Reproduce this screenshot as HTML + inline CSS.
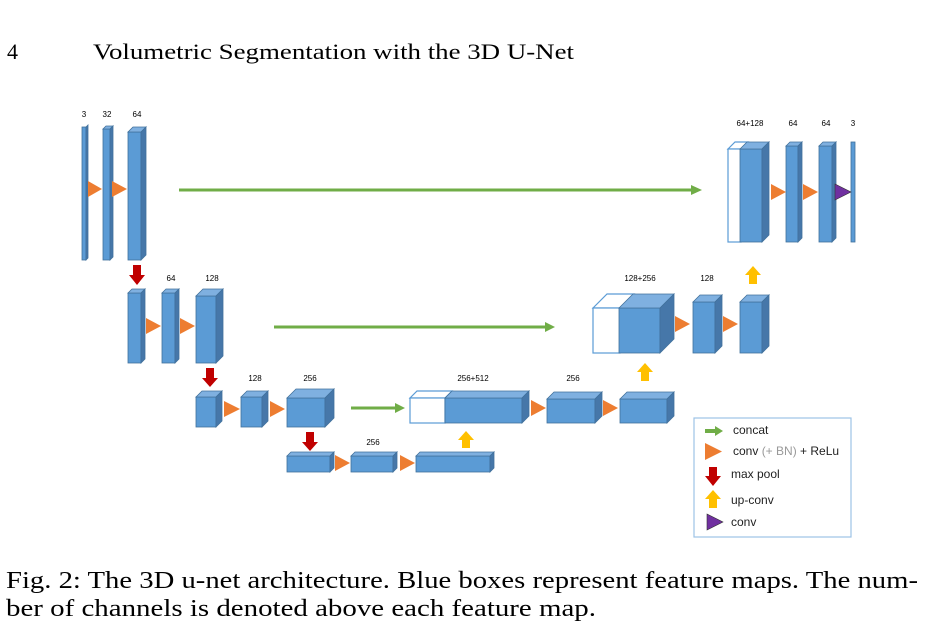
<!DOCTYPE html>
<html><head><meta charset="utf-8"><style>
html,body{margin:0;padding:0;background:#fff;}
svg{display:block;}
.f{fill:#5b9bd5;stroke:#41719c;stroke-width:0.8}
.t{fill:#7fb0e0;stroke:#41719c;stroke-width:0.8}
.s{fill:#4677a9;stroke:#41719c;stroke-width:0.8}
.w{fill:#fff;stroke:#5b9bd5;stroke-width:1.2}
.o{fill:#ed7d31}
.l{font-family:"Liberation Sans",sans-serif;font-size:8px;fill:#000;text-anchor:middle}
.lg{font-family:"Liberation Sans",sans-serif;font-size:12px;fill:#222}
.serif{font-family:"Liberation Serif",serif;fill:#000}
</style></head><body>
<svg width="932" height="626" viewBox="0 0 932 626" xmlns="http://www.w3.org/2000/svg">
<text class="serif" x="7" y="59" font-size="22">4</text>
<text class="serif" x="93" y="59" font-size="22" textLength="481" lengthAdjust="spacingAndGlyphs">Volumetric Segmentation with the 3D U-Net</text>

<text class="l" x="84" y="117">3</text>
<text class="l" x="107" y="117">32</text>
<text class="l" x="137" y="117">64</text>
<text class="l" x="750" y="126">64+128</text>
<text class="l" x="793" y="126">64</text>
<text class="l" x="826" y="126">64</text>
<text class="l" x="853" y="126">3</text>
<text class="l" x="171" y="281">64</text>
<text class="l" x="212" y="281">128</text>
<text class="l" x="640" y="281">128+256</text>
<text class="l" x="707" y="281">128</text>
<text class="l" x="255" y="381">128</text>
<text class="l" x="310" y="381">256</text>
<text class="l" x="473" y="381">256+512</text>
<text class="l" x="573" y="381">256</text>
<text class="l" x="373" y="445">256</text>

<rect class="f" x="82" y="127" width="4" height="133"/>
<polygon class="s" points="86,127 88,125 88,258 86,260"/>
<rect class="f" x="103" y="129" width="7" height="131"/><polygon class="t" points="103,129 106,126 113,126 110,129"/><polygon class="s" points="110,129 113,126 113,257 110,260"/>
<rect class="f" x="128" y="132" width="13" height="128"/><polygon class="t" points="128,132 133,127 146,127 141,132"/><polygon class="s" points="141,132 146,127 146,255 141,260"/>
<polygon class="o" points="88,181 88,197 102,189"/>
<polygon class="o" points="112,181 112,197 127,189"/>
<line x1="179" y1="190" x2="692" y2="190" stroke="#70ad47" stroke-width="3"/>
<polygon fill="#70ad47" points="691,185 702,190 691,195"/>

<polygon class="w" points="728,149 735,142 748,142 741,149"/><rect class="w" x="728" y="149" width="13" height="93"/>
<rect class="f" x="740" y="149" width="22" height="93"/><polygon class="t" points="740,149 747,142 769,142 762,149"/><polygon class="s" points="762,149 769,142 769,235 762,242"/>
<rect class="f" x="786" y="146" width="12" height="96"/><polygon class="t" points="786,146 790,142 802,142 798,146"/><polygon class="s" points="798,146 802,142 802,238 798,242"/>
<rect class="f" x="819" y="146" width="13" height="96"/><polygon class="t" points="819,146 823,142 836,142 832,146"/><polygon class="s" points="832,146 836,142 836,238 832,242"/>
<rect class="f" x="851" y="142" width="4" height="100"/>
<polygon class="o" points="771,184 771,200 786,192"/>
<polygon class="o" points="803,184 803,200 818,192"/>
<polygon fill="#7030a0" stroke="#333" stroke-width="0.6" points="835,184 835,200 851,192"/>

<polygon fill="#c00000" points="133,265 141,265 141,275 145,275 137,285 129,275 133,275"/>
<rect class="f" x="128" y="293" width="13" height="70"/><polygon class="t" points="128,293 132,289 145,289 141,293"/><polygon class="s" points="141,293 145,289 145,359 141,363"/>
<rect class="f" x="162" y="293" width="13" height="70"/><polygon class="t" points="162,293 166,289 179,289 175,293"/><polygon class="s" points="175,293 179,289 179,359 175,363"/>
<rect class="f" x="196" y="296" width="20" height="67"/><polygon class="t" points="196,296 203,289 223,289 216,296"/><polygon class="s" points="216,296 223,289 223,356 216,363"/>
<polygon class="o" points="146,318 146,334 161,326"/>
<polygon class="o" points="180,318 180,334 195,326"/>
<line x1="274" y1="327" x2="546" y2="327" stroke="#70ad47" stroke-width="3"/>
<polygon fill="#70ad47" points="545,322 555,327 545,332"/>
<polygon class="w" points="593,308 607,294 634,294 620,308"/><rect class="w" x="593" y="308" width="27" height="45"/>
<rect class="f" x="619" y="308" width="41" height="45"/><polygon class="t" points="619,308 633,294 674,294 660,308"/><polygon class="s" points="660,308 674,294 674,339 660,353"/>
<rect class="f" x="693" y="302" width="22" height="51"/><polygon class="t" points="693,302 700,295 722,295 715,302"/><polygon class="s" points="715,302 722,295 722,346 715,353"/>
<rect class="f" x="740" y="302" width="22" height="51"/><polygon class="t" points="740,302 747,295 769,295 762,302"/><polygon class="s" points="762,302 769,295 769,346 762,353"/>
<polygon class="o" points="675,316 675,332 690,324"/>
<polygon class="o" points="723,316 723,332 738,324"/>
<polygon fill="#ffc000" points="749,284 757,284 757,275 761,275 753,266 745,275 749,275"/>

<polygon fill="#c00000" points="206,368 214,368 214,378 218,378 210,387 202,378 206,378"/>
<rect class="f" x="196" y="397" width="20" height="30"/><polygon class="t" points="196,397 202,391 222,391 216,397"/><polygon class="s" points="216,397 222,391 222,421 216,427"/>
<rect class="f" x="241" y="397" width="21" height="30"/><polygon class="t" points="241,397 247,391 268,391 262,397"/><polygon class="s" points="262,397 268,391 268,421 262,427"/>
<rect class="f" x="287" y="398" width="38" height="29"/><polygon class="t" points="287,398 296,389 334,389 325,398"/><polygon class="s" points="325,398 334,389 334,418 325,427"/>
<polygon class="o" points="224,401 224,417 240,409"/>
<polygon class="o" points="270,401 270,417 285,409"/>
<line x1="351" y1="408" x2="396" y2="408" stroke="#70ad47" stroke-width="3"/>
<polygon fill="#70ad47" points="395,403 405,408 395,413"/>
<polygon class="w" points="410,398 417,391 452,391 445,398"/><rect class="w" x="410" y="398" width="35" height="25"/>
<rect class="f" x="445" y="398" width="77" height="25"/><polygon class="t" points="445,398 452,391 529,391 522,398"/><polygon class="s" points="522,398 529,391 529,416 522,423"/>
<rect class="f" x="547" y="399" width="48" height="24"/><polygon class="t" points="547,399 554,392 602,392 595,399"/><polygon class="s" points="595,399 602,392 602,416 595,423"/>
<rect class="f" x="620" y="399" width="47" height="24"/><polygon class="t" points="620,399 627,392 674,392 667,399"/><polygon class="s" points="667,399 674,392 674,416 667,423"/>
<polygon class="o" points="531,400 531,416 546,408"/>
<polygon class="o" points="603,400 603,416 618,408"/>
<polygon fill="#ffc000" points="641,381 649,381 649,372 653,372 645,363 637,372 641,372"/>

<polygon fill="#c00000" points="306,432 314,432 314,442 318,442 310,451 302,442 306,442"/>
<rect class="f" x="287" y="456" width="43" height="16"/><polygon class="t" points="287,456 291,452 334,452 330,456"/><polygon class="s" points="330,456 334,452 334,468 330,472"/>
<rect class="f" x="351" y="456" width="42" height="16"/><polygon class="t" points="351,456 355,452 397,452 393,456"/><polygon class="s" points="393,456 397,452 397,468 393,472"/>
<rect class="f" x="416" y="456" width="74" height="16"/><polygon class="t" points="416,456 420,452 494,452 490,456"/><polygon class="s" points="490,456 494,452 494,468 490,472"/>
<polygon class="o" points="335,455 335,471 350,463"/>
<polygon class="o" points="400,455 400,471 415,463"/>
<polygon fill="#ffc000" points="462,448 470,448 470,440 474,440 466,431 458,440 462,440"/>

<rect x="694" y="418" width="157" height="119" fill="#fff" stroke="#9dc3e6" stroke-width="1.2"/>
<line x1="705" y1="431" x2="716" y2="431" stroke="#70ad47" stroke-width="4"/>
<polygon fill="#70ad47" points="715,426 723,431 715,436"/>
<text class="lg" x="733" y="434">concat</text>
<polygon class="o" points="705,443 705,460 722,451.5"/>
<text class="lg" x="733" y="455">conv <tspan fill="#999">(+ BN)</tspan> + ReLu</text>
<polygon fill="#c00000" points="709,467 717,467 717,476 721,476 713,486 705,476 709,476"/>
<text class="lg" x="731" y="478">max pool</text>
<polygon fill="#ffc000" points="709,508 717,508 717,499 721,499 713,490 705,499 709,499"/>
<text class="lg" x="731" y="504">up-conv</text>
<polygon fill="#7030a0" stroke="#333" stroke-width="0.6" points="707,514 707,530 723,522"/>
<text class="lg" x="731" y="526">conv</text>

<text class="serif" x="6" y="588" font-size="24" textLength="912" lengthAdjust="spacingAndGlyphs">Fig. 2: The 3D u-net architecture. Blue boxes represent feature maps. The num-</text>
<text class="serif" x="6" y="616" font-size="24" textLength="590" lengthAdjust="spacingAndGlyphs">ber of channels is denoted above each feature map.</text>
</svg>
</body></html>
